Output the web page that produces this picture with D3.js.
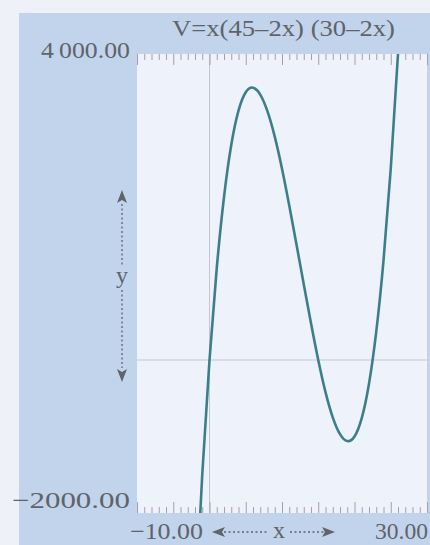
<!DOCTYPE html>
<html>
<head>
<meta charset="utf-8">
<script src="https://cdn.jsdelivr.net/npm/d3@7"></script>
<style>
  body { margin: 0; background: #eff1f8; }
  text { font-family: "Liberation Serif", "DejaVu Serif", serif; fill: #5f636a; }
</style>
</head>
<body>
<div id="chart"></div>
<script>
const xVals = [-2, -1, 0, 1, 2, 3, 4, 5, 6, 7, 8, 9, 10, 11, 12, 13, 14, 15,
  16, 17, 18, 19, 20, 21, 22, 23, 24, 25, 26, 27];
const vVals = [-3330, -1500, 0, 1200, 2130, 2810, 3260, 3500, 3560, 3470, 3250,
  2920, 2500, 2020, 1510, 990, 480, 0, -420, -750, -970, -1060, -1000, -760,
  -310, 370, 1300, 2500, 4000, 5830];
const xDomain = [-10, 30];
const yDomain = [-2000, 4000];
const titleText = "V=x(45\u20132x) (30\u20132x)";
const yTopLabel = "4\u2009000.00";
const yBotLabel = "\u22122000.00";
const xLeftLabel = "\u221210.00";
const xRightLabel = "30.00";

const W = 430, H = 545;
const plot = { left: 137, top: 54, right: 427, bottom: 513 };

const svg = d3.select("#chart").append("svg")
  .attr("width", W).attr("height", H);

// blue panel behind everything
svg.append("rect")
  .attr("x", 19).attr("y", 13)
  .attr("width", W - 19).attr("height", H - 13)
  .attr("fill", "#c2d4eb");

svg.append("rect")
  .attr("x", plot.left).attr("y", plot.top)
  .attr("width", plot.right - plot.left).attr("height", plot.bottom - plot.top)
  .attr("fill", "#eef2fa");

let x = d3.scaleLinear().domain(xDomain).range([plot.left, plot.right]);
let y = d3.scaleLinear().domain(yDomain).range([plot.bottom, plot.top]);

// zero lines
svg.append("line")
  .attr("x1", x(0)).attr("x2", x(0))
  .attr("y1", plot.top).attr("y2", plot.bottom)
  .attr("stroke", "#c4c6d0").attr("stroke-width", 1);
svg.append("line")
  .attr("x1", plot.left).attr("x2", plot.right)
  .attr("y1", y(0)).attr("y2", y(0))
  .attr("stroke", "#c4c6d0").attr("stroke-width", 1);

// ruler ticks on top and bottom
let minor = d3.range(xDomain[0], xDomain[1] + 1, 1);
let tickLen = (d) => (d % 5 === 0 ? 11 : 6);

let topAxis = d3.axisBottom(x).tickValues(minor).tickFormat("").tickSizeOuter(0);
let topG = svg.append("g")
  .attr("transform", `translate(0,${plot.top})`)
  .call(topAxis);
topG.select(".domain").remove();
topG.selectAll(".tick line")
  .attr("y2", (d) => tickLen(d))
  .attr("stroke", "#aa9ea6");

let botAxis = d3.axisTop(x).tickValues(minor).tickFormat("").tickSizeOuter(0);
let botG = svg.append("g")
  .attr("transform", `translate(0,${plot.bottom})`)
  .call(botAxis);
botG.select(".domain").remove();
botG.selectAll(".tick line")
  .attr("y2", (d) => -tickLen(d))
  .attr("stroke", "#aa9ea6");

// curve, clipped to the plot area
svg.append("defs").append("clipPath").attr("id", "clip")
  .append("rect")
  .attr("x", plot.left).attr("y", plot.top)
  .attr("width", plot.right - plot.left).attr("height", plot.bottom - plot.top);

let pts = xVals.map((d, i) => [d, vVals[i]]);
let line = d3.line()
  .x((d) => x(d[0]))
  .y((d) => y(d[1]))
  .curve(d3.curveNatural);

svg.append("path")
  .datum(pts)
  .attr("clip-path", "url(#clip)")
  .attr("d", line)
  .attr("fill", "none")
  .attr("stroke", "#3c7f88")
  .attr("stroke-width", 2.6);

// texts
function label(txt, x0, x1, base, size) {
  svg.append("text")
    .attr("x", x0).attr("y", base)
    .attr("font-size", size)
    .attr("textLength", x1 - x0)
    .attr("lengthAdjust", "spacingAndGlyphs")
    .text(txt);
}
label(titleText, 172, 395, 36, 23);
label(yTopLabel, 41, 130, 58, 23);
label(yBotLabel, 12, 130, 508, 23);
label(xLeftLabel, 130, 203, 539, 23);
label(xRightLabel, 375, 428, 539, 23);
label("x", 273, 285, 538, 23);
label("y", 116, 128, 283, 23);

// dashed arrows for axis names
const arrowCol = "#5f636a";
function arrowHead(px, py, dir) {
  // dir: "l", "r", "u", "d"
  let p;
  if (dir === "l") p = [[px, py], [px + 13, py - 5], [px + 10, py], [px + 13, py + 5]];
  if (dir === "r") p = [[px, py], [px - 13, py - 5], [px - 10, py], [px - 13, py + 5]];
  if (dir === "u") p = [[px, py], [px - 5, py + 13], [px, py + 10], [px + 5, py + 13]];
  if (dir === "d") p = [[px, py], [px - 5, py - 13], [px, py - 10], [px + 5, py - 13]];
  svg.append("path").attr("d", d3.line()(p) + "Z").attr("fill", arrowCol);
}
function dashed(x1, y1, x2, y2) {
  svg.append("line")
    .attr("x1", x1).attr("y1", y1).attr("x2", x2).attr("y2", y2)
    .attr("stroke", arrowCol).attr("stroke-width", 1.3)
    .attr("stroke-dasharray", "2,2.5");
}
dashed(224, 532, 269, 532);
dashed(290, 532, 324, 532);
arrowHead(212, 532, "l");
arrowHead(335, 532, "r");

dashed(122, 204, 122, 265);
dashed(122, 290, 122, 368);
arrowHead(122, 190, "u");
arrowHead(122, 382, "d");
</script>
</body>
</html>
